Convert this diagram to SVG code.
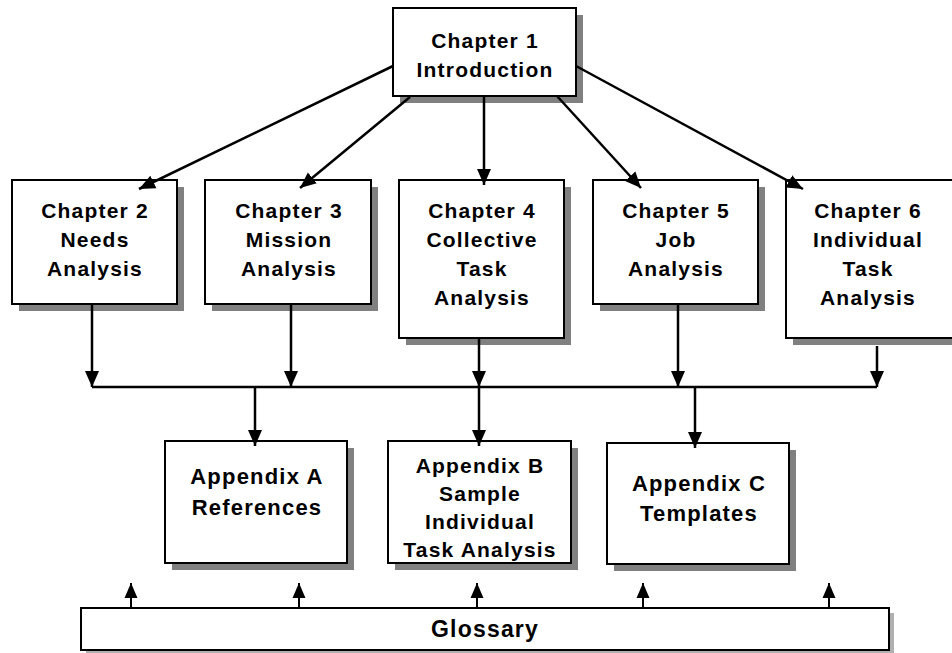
<svg xmlns="http://www.w3.org/2000/svg" width="952" height="653" viewBox="0 0 952 653">
  <style>
    .shadow { fill: #808080; }
    .shadow-light { fill: #b0b0b0; }
    .box { fill: #ffffff; stroke: #000000; stroke-width: 2; }
    .label { font-family: "Liberation Sans", Arial, sans-serif; font-weight: bold; font-size: 21px; letter-spacing: 1.2px; fill: #000000; text-anchor: middle; }
    .big { font-size: 22px; }
    .wire { fill: none; stroke: #000000; stroke-width: 2.5; }
    .wire-up { fill: none; stroke: #000000; stroke-width: 2; }
  </style>
  <defs>
    <marker id="arrow" markerUnits="userSpaceOnUse" markerWidth="16" markerHeight="16" viewBox="0 0 16 16" refX="16" refY="8" orient="auto">
      <path d="M0,1 L16,8 L0,15 Z" fill="#000000"/>
    </marker>
    <marker id="arrow-small" markerUnits="userSpaceOnUse" markerWidth="15" markerHeight="14" viewBox="0 0 15 14" refX="15" refY="7" orient="auto">
      <path d="M0,0.5 L15,7 L0,13.5 Z" fill="#000000"/>
    </marker>
  </defs>

  <rect width="952" height="653" fill="#ffffff"/>

  <g id="chapter1">
    <rect class="shadow" x="400" y="15" width="183" height="88"/>
    <rect class="box" x="393" y="8" width="183" height="88"/>
    <text class="label" x="485" y="48">Chapter 1</text>
    <text class="label" x="485" y="77">Introduction</text>
  </g>

  <g id="chapter2">
    <rect class="shadow" x="19" y="187" width="165" height="124"/>
    <rect class="box" x="12" y="180" width="165" height="124"/>
    <text class="label" x="95" y="218">Chapter 2</text>
    <text class="label" x="95" y="247">Needs</text>
    <text class="label" x="95" y="276">Analysis</text>
  </g>

  <g id="chapter3">
    <rect class="shadow" x="212" y="187" width="166" height="124"/>
    <rect class="box" x="205" y="180" width="166" height="124"/>
    <text class="label" x="289" y="218">Chapter 3</text>
    <text class="label" x="289" y="247">Mission</text>
    <text class="label" x="289" y="276">Analysis</text>
  </g>

  <g id="chapter4">
    <rect class="shadow" x="406" y="187" width="165" height="158"/>
    <rect class="box" x="399" y="180" width="165" height="158"/>
    <text class="label" x="482" y="218">Chapter 4</text>
    <text class="label" x="482" y="247">Collective</text>
    <text class="label" x="482" y="276">Task</text>
    <text class="label" x="482" y="305">Analysis</text>
  </g>

  <g id="chapter5">
    <rect class="shadow" x="600" y="187" width="165" height="124"/>
    <rect class="box" x="593" y="180" width="165" height="124"/>
    <text class="label" x="676" y="218">Chapter 5</text>
    <text class="label" x="676" y="247">Job</text>
    <text class="label" x="676" y="276">Analysis</text>
  </g>

  <g id="chapter6">
    <rect class="shadow" x="793" y="187" width="170" height="158"/>
    <rect class="box" x="786" y="180" width="170" height="158"/>
    <text class="label" x="868" y="218">Chapter 6</text>
    <text class="label" x="868" y="247">Individual</text>
    <text class="label" x="868" y="276">Task</text>
    <text class="label" x="868" y="305">Analysis</text>
  </g>

  <g id="appendixA">
    <rect class="shadow" x="172" y="448" width="182" height="122"/>
    <rect class="box" x="165" y="441" width="182" height="122"/>
    <text class="label big" x="257" y="484">Appendix A</text>
    <text class="label big" x="257" y="515">References</text>
  </g>

  <g id="appendixB">
    <rect class="shadow" x="395" y="448" width="183" height="122"/>
    <rect class="box" x="388" y="441" width="183" height="122"/>
    <text class="label" x="480" y="473">Appendix B</text>
    <text class="label" x="480" y="501">Sample</text>
    <text class="label" x="480" y="529">Individual</text>
    <text class="label" x="480" y="557">Task Analysis</text>
  </g>

  <g id="appendixC">
    <rect class="shadow" x="614" y="450" width="182" height="121"/>
    <rect class="box" x="607" y="443" width="182" height="121"/>
    <text class="label big" x="699" y="491">Appendix C</text>
    <text class="label big" x="699" y="521">Templates</text>
  </g>

  <g id="glossary">
    <rect class="shadow-light" x="86" y="613" width="808" height="42"/>
    <rect class="box" x="81" y="608" width="808" height="42"/>
    <text class="label" x="485" y="637" style="font-size:23px">Glossary</text>
  </g>

  <!-- connectors, drawn last so arrowheads sit over the box edges -->
  <g id="connectors">
    <!-- Chapter 1 fan-out -->
    <path class="wire" d="M393,66 L139,189" marker-end="url(#arrow)"/>
    <path class="wire" d="M410,97 L300,188" marker-end="url(#arrow)"/>
    <path class="wire" d="M484,96 L484,185" marker-end="url(#arrow)"/>
    <path class="wire" d="M557,96 L641,188" marker-end="url(#arrow)"/>
    <path class="wire" d="M576,66 L803,189" marker-end="url(#arrow)"/>
    <!-- chapters down to the bus -->
    <path class="wire" d="M92,305 L92,387" marker-end="url(#arrow)"/>
    <path class="wire" d="M291,305 L291,387" marker-end="url(#arrow)"/>
    <path class="wire" d="M479,339 L479,387" marker-end="url(#arrow)"/>
    <path class="wire" d="M678,305 L678,387" marker-end="url(#arrow)"/>
    <path class="wire" d="M877,346 L877,387" marker-end="url(#arrow)"/>
    <!-- bus -->
    <path class="wire" d="M92,387 L877,387"/>
    <!-- bus down to appendices -->
    <path class="wire" d="M255,387 L255,446" marker-end="url(#arrow)"/>
    <path class="wire" d="M479,387 L479,446" marker-end="url(#arrow)"/>
    <path class="wire" d="M695,387 L695,448" marker-end="url(#arrow)"/>
    <!-- glossary up -->
    <path class="wire-up" d="M131,607 L131,583" marker-end="url(#arrow-small)"/>
    <path class="wire-up" d="M299,607 L299,583" marker-end="url(#arrow-small)"/>
    <path class="wire-up" d="M477,607 L477,583" marker-end="url(#arrow-small)"/>
    <path class="wire-up" d="M643,607 L643,583" marker-end="url(#arrow-small)"/>
    <path class="wire-up" d="M829,607 L829,583" marker-end="url(#arrow-small)"/>
  </g>
</svg>
